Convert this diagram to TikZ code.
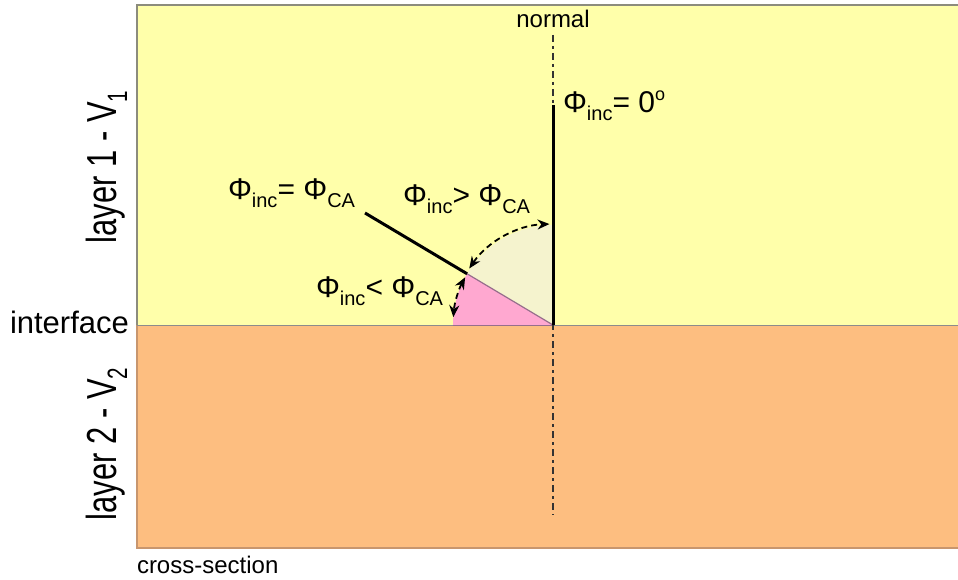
\documentclass[tikz,border=0pt]{standalone}
\usepackage{fontspec}
\usepackage{graphicx}
\setmainfont{Liberation Sans}
\usetikzlibrary{arrows.meta,calc}
\definecolor{upperc}{RGB}{255,255,170}
\definecolor{lowerc}{RGB}{253,190,128}
\definecolor{beigec}{RGB}{245,243,206}
\definecolor{pinkc}{RGB}{255,168,208}
\definecolor{edgec}{RGB}{150,110,140}
\definecolor{frameg}{RGB}{140,140,125}
\definecolor{frameb}{RGB}{200,150,110}
\newcommand\mysub[1]{\raisebox{-8pt}{\fontsize{20}{20}\selectfont #1}}
\newcommand\mysup[1]{\raisebox{12pt}{\fontsize{18}{18}\selectfont #1}}
\newcommand\phii{\fontsize{30}{30}\selectfont Φ\mysub{inc}}
\newcommand\phica{\fontsize{30}{30}\selectfont Φ\mysub{CA}}
\tikzset{
  lab/.style={inner sep=0pt, outer sep=0pt, font=\fontsize{30}{30}\selectfont},
  small/.style={inner sep=0pt, outer sep=0pt, font=\fontsize{24}{24}\selectfont},
  ray/.style={line width=3pt, black},
  normalline/.style={line width=1.6pt, black!80, dash pattern=on 7pt off 4pt on 3pt off 4pt},
  dasharrow/.style={line width=1.8pt, black, dash pattern=on 6pt off 4pt,
     {Stealth[length=12pt,width=10pt]}-{Stealth[length=12pt,width=10pt]}},
}
\begin{document}
\begin{tikzpicture}[x=1pt,y=-1pt]
\useasboundingbox (0,0) rectangle (958,580);
% layers
\fill[upperc] (137,5) rectangle (958,325);
\fill[lowerc] (137,325) rectangle (958,548);
\draw[frameg, line width=2pt] (958,5) -- (137,5) -- (137,325);
\draw[frameb, line width=2pt] (137,325) -- (137,548) -- (958,548);
\draw[black!45, line width=0.8pt] (137,325) -- (958,325);
% key points
\coordinate (O) at (553,325);
\coordinate (T) at (553,105);
\coordinate (F) at (365,213);
\coordinate (P) at ($(O)+(-149.2:100)$);
\coordinate (NT) at (553,35);
\coordinate (NB) at (553,515);
% sectors
\fill[beigec] (O) -- ++(-90:100) arc[start angle=-90, end angle=-149.2, radius=100] -- cycle;
\fill[pinkc] (O) -- (P) arc[start angle=-149.2, end angle=-180, radius=100] -- cycle;
\draw[edgec, line width=1.2pt] (P) -- (O);
\draw[edgec, line width=1pt] (O) -- ++(-180:100);
% normal
\draw[normalline] (NT) -- (NB);
\draw[ray] (T) -- (O);
\draw[ray] (F) -- (P);
% angle arrows
\draw[dasharrow] (O) ++(-146:101) arc[start angle=-146, end angle=-92, radius=101];
\draw[dasharrow] (O) ++(-151.5:100) arc[start angle=-151.5, end angle=-175.5, radius=100];
% labels
\node[small, anchor=base] (nl) at (553,28) {normal};
\node[lab, anchor=base west] (l0) at (563,113) {\phii= 0\mysup{o}};
\node[lab, anchor=base west] (lg) at (403,206) {\phii> \phica};
\node[lab, anchor=base west] (le) at (228,200) {\phii= \phica};
\node[lab, anchor=base west] (ll) at (316,297) {\phii< \phica};
\node[lab, anchor=base west] (ifc) at (10,333) {\fontsize{31}{31}\selectfont interface};
\node[small, anchor=base west] (cs) at (137,573) {cross-section};
\node[lab, anchor=base, rotate=90] (l1) at (116,167) {\scalebox{1.03}[1.4]{layer 1 - V\mysub{1}}};
\node[lab, anchor=base, rotate=90] (l2) at (116,444) {\scalebox{1.03}[1.4]{layer 2 - V\mysub{2}}};
\end{tikzpicture}
\end{document}
